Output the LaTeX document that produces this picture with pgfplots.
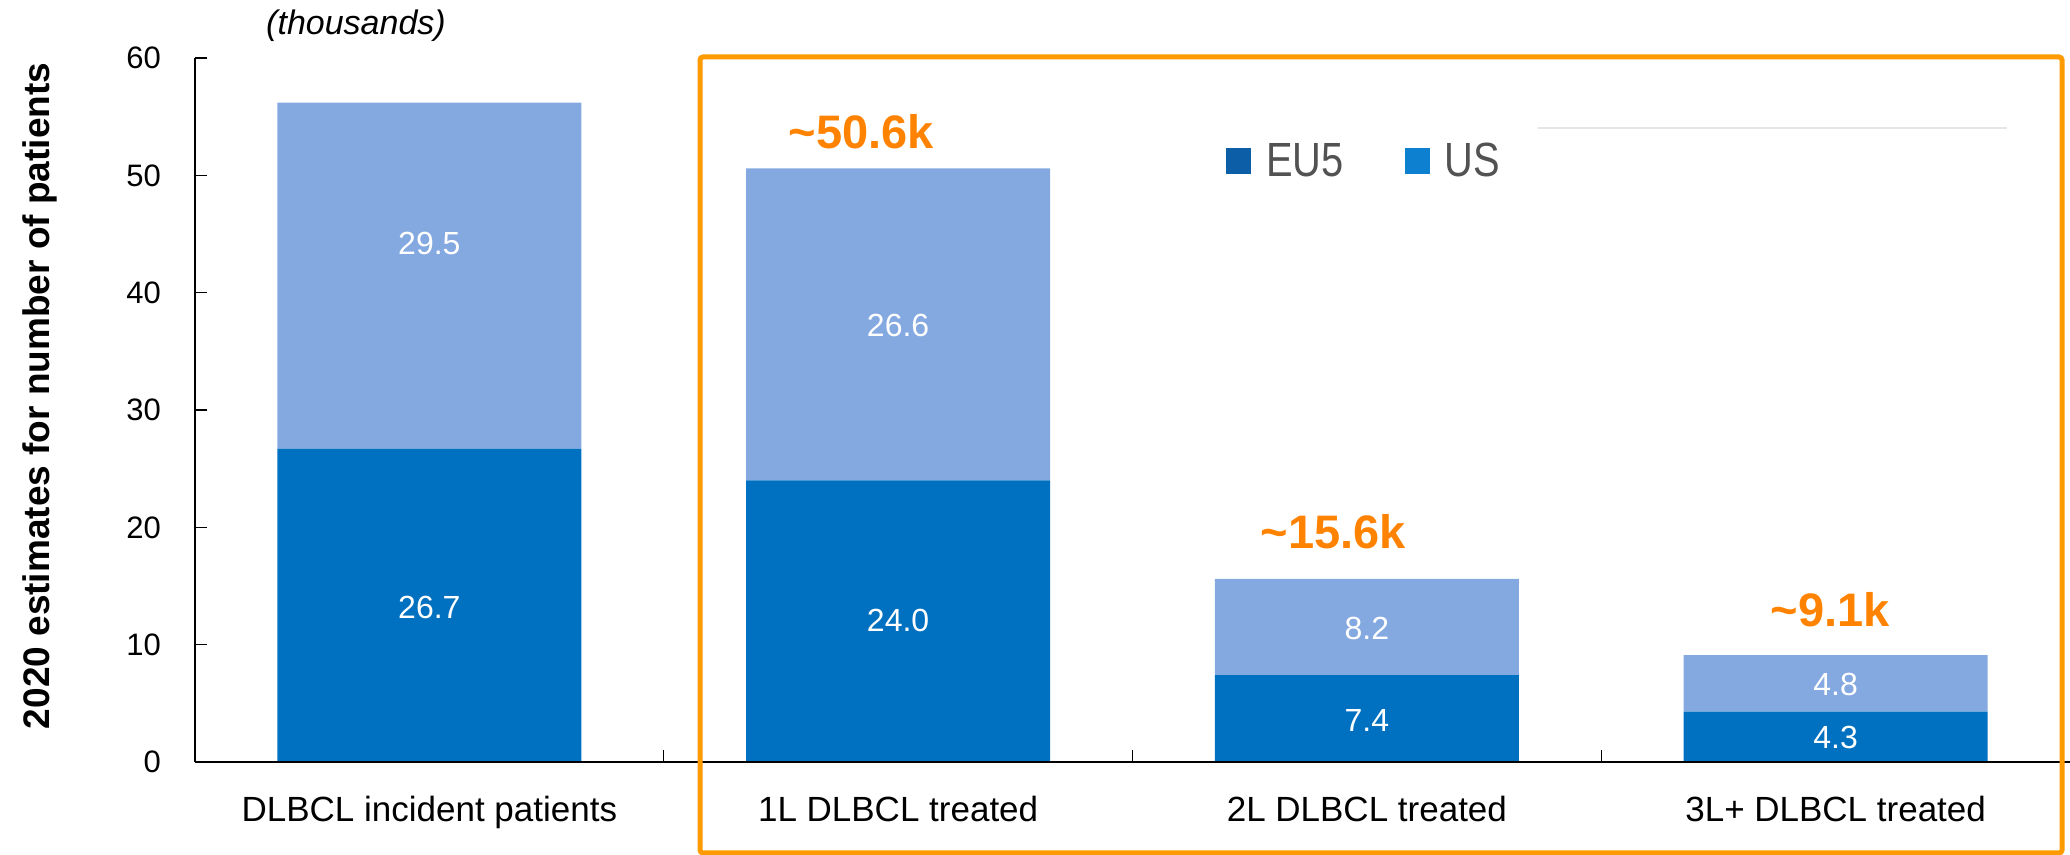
\documentclass[border=0pt]{standalone}
\usepackage{pgfplots}
\pgfplotsset{compat=1.18}
\usepackage{pgfplotstable}
\usepackage{fontspec}
\setmainfont{Liberation Sans}
\newfontfamily\narrowfont[FakeStretch=0.83]{Liberation Sans}
\definecolor{darkbar}{HTML}{0070C0}
\definecolor{lightbar}{HTML}{84A9E1}
\definecolor{legeu}{HTML}{0C5FA6}
\definecolor{legus}{HTML}{0E80D0}
\definecolor{boxorange}{HTML}{FF9A00}
\definecolor{txtorange}{HTML}{FF8200}

\pgfplotstableread{
x eu us
0 26.7 29.5
1 24.0 26.6
2 7.4 8.2
3 4.3 4.8
}\datatable

\pgfplotstableread{
x y label
0 13.2 26.7
0 44.2 29.5
1 12.1 24.0
1 37.2 26.6
2 3.5 7.4
2 11.4 8.2
3 2.05 4.3
3 6.6 4.8
}\labeltable

\pgfplotstableread{
x y label
0.921 53.7 50.6k
1.928 19.6 15.6k
2.988 12.96 9.1k
}\totaltable

\begin{document}
\begin{tikzpicture}
\useasboundingbox (0,0) rectangle (1035pt,427.5pt);
\pgfplotsset{myaxis/.style={at={(97.5pt,46.5pt)}, anchor=south west, scale only axis,
  width=937.5pt, height=352pt, xmin=-0.5, xmax=3.5, ymin=0, ymax=60}}
\begin{axis}[myaxis,
  ybar stacked, bar width=152pt,
  axis on top,
  axis x line=bottom, axis y line=left, axis line style={-},
  x axis line style={line width=1.2pt},
  y axis line style={line width=0.6pt},
  ytick={0,10,...,60},
  tick align=inside, major tick length=6pt, minor tick length=6pt,
  tick style={black, line width=0.6pt},
  xtick={0,1,2,3},
  minor xtick={0.5,1.5,2.5},
  every major x tick/.append style={draw=none},
  xticklabels={DLBCL incident patients, 1L DLBCL treated, 2L DLBCL treated, 3L+ DLBCL treated},
  /pgf/number format/assume math mode=true,
  yticklabel style={font=\fontsize{15.5}{18}\selectfont, xshift=-13.5pt},
  xticklabel style={font=\fontsize{17.5}{20}\selectfont, yshift=-13.5pt},
  ylabel={2020 estimates for number of patients},
  ylabel style={font=\fontsize{18.5}{22}\selectfont\bfseries, at={(axis description cs:-0.0827,0.52)}, anchor=center},
  legend style={at={(axis cs:1.686,51.2)}, anchor=west, draw=none, fill=none,
    font=\narrowfont\fontsize{24}{28}\selectfont, text=black!68,
    nodes={inner xsep=7.5pt},
    /tikz/every even column/.append style={column sep=23pt}},
  legend columns=2,
  legend image code/.code={\fill[#1] (0pt,-6.5pt) rectangle (12.5pt,6.5pt);},
]
\addplot[fill=darkbar, draw=none, forget plot] table[x=x,y=eu]{\datatable};
\addplot[fill=lightbar, draw=none, forget plot] table[x=x,y=us]{\datatable};
\addlegendimage{fill=legeu, draw=none}
\addlegendentry{EU5}
\addlegendimage{fill=legus, draw=none}
\addlegendentry{US}
\end{axis}
\begin{axis}[myaxis, hide axis, clip=false]
\addplot[draw=none, mark=none, nodes near coords, point meta=explicit symbolic,
  nodes near coords style={font=\fontsize{16}{19}\selectfont, text=white, anchor=center}]
  table[x=x,y=y,meta=label]{\labeltable};
\addplot[draw=none, mark=none, nodes near coords={\textasciitilde\pgfplotspointmeta}, point meta=explicit symbolic,
  nodes near coords style={font=\fontsize{23.5}{27}\selectfont\bfseries, text=txtorange, anchor=center}]
  table[x=x,y=y,meta=label]{\totaltable};
\end{axis}
\node[font=\itshape\fontsize{17}{20}\selectfont] at (178pt,414.5pt) {(thousands)};
\draw[black!10, line width=1pt] (769pt,363.5pt) -- (1003.5pt,363.5pt);
\draw[boxorange, line width=2.5pt, rounded corners=1.5pt] (350pt,1pt) rectangle (1031pt,399pt);
\end{tikzpicture}
\end{document}
